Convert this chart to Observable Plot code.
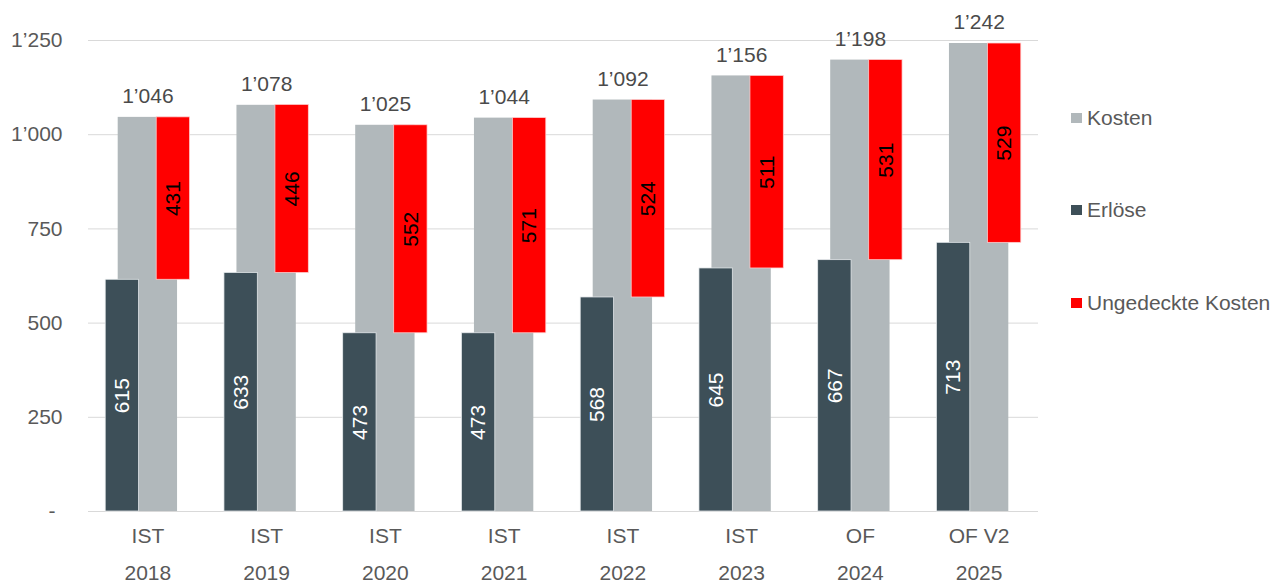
<!DOCTYPE html>
<html>
<head>
<meta charset="utf-8">
<script src="https://cdn.jsdelivr.net/npm/d3@7"></script>
<script src="https://cdn.jsdelivr.net/npm/@observablehq/plot@0.6"></script>
<style>
  html, body { margin: 0; padding: 0; background: #fff; }
  #wrap { position: relative; width: 1275px; height: 582px; font-family: "Liberation Sans", Arial, sans-serif; }
  #legend { position: absolute; left: 1071px; top: 0; }
  .item { position: absolute; left: 0; white-space: nowrap; display: flex; align-items: center; font-size: 21px; color: #595959; line-height: 24px; }
  .sw { width: 11px; height: 10px; margin-right: 5px; display: inline-block; }
</style>
</head>
<body>
<div id="wrap"><div id="legend"></div></div>
<script>
const years = ["2018", "2019", "2020", "2021", "2022", "2023", "2024", "2025"];
const types = ["IST", "IST", "IST", "IST", "IST", "IST", "OF", "OF V2"];
const kosten = [1046, 1078, 1025, 1044, 1092, 1156, 1198, 1242];
const erloese = [615, 633, 473, 473, 568, 645, 667, 713];
const ungedeckt = [431, 446, 552, 571, 524, 511, 531, 529];
const yTicks = [0, 250, 500, 750, 1000, 1250];
const seriesNames = ["Kosten", "Erlöse", "Ungedeckte Kosten"];

const colors = { "Kosten": "#b1b8bb", "Erlöse": "#3d4f58", "Ungedeckte Kosten": "#ff0000" };

const rows = years.map((y, i) => ({
  year: y, type: types[i], kosten: kosten[i], erloese: erloese[i], ungedeckt: ungedeckt[i]
}));

const fmt = d3.formatLocale({ decimal: ".", thousands: "\u2019", grouping: [3], currency: ["", ""] }).format(",");

const chart = Plot.plot({
  width: 1275,
  height: 582,
  marginLeft: 88,
  marginRight: 237,
  marginTop: 40,
  marginBottom: 71,
  x: { domain: years, paddingInner: 0, paddingOuter: 0, round: false, label: null },
  y: { domain: [0, 1250], label: null },
  style: { fontFamily: "'Liberation Sans', Arial, sans-serif", fontSize: "21px", color: "#595959", background: "white", overflow: "visible" },
  marks: [
    Plot.gridY(yTicks, { stroke: "#d9d9d9", strokeOpacity: 1, strokeWidth: 1 }),
    Plot.axisY(yTicks.filter(d => d !== 0), { tickSize: 0, tickPadding: 26, tickFormat: fmt, fill: "#595959", label: null }),
    Plot.text([0], { y: d => d, frameAnchor: "left", dx: -40, text: () => "-", fill: "#595959" }),
    Plot.axisX({ tickSize: 0, tickPadding: 17, tickFormat: d => types[years.indexOf(d)], fill: "#595959", label: null }),
    Plot.axisX({ tickSize: 0, tickPadding: 54, tickFormat: d => d, fill: "#595959", label: null }),
    Plot.barY(rows, { x: "year", y: "kosten", fill: colors["Kosten"], insetLeft: 29.7, insetRight: 29.7 }),
    Plot.barY(rows, { x: "year", y: "erloese", fill: colors["Erlöse"], stroke: "#e8ecee", strokeWidth: 0.75, insetLeft: 42.7, insetRight: 42.7, dx: -25.5 }),
    Plot.barY(rows, { x: "year", y1: "erloese", y2: d => d.erloese + d.ungedeckt, fill: colors["Ungedeckte Kosten"], stroke: "#ffd0d0", strokeWidth: 0.75, insetLeft: 42.7, insetRight: 42.7, dx: 25.5 }),
    Plot.text(rows, { x: "year", y: "kosten", text: d => fmt(d.kosten), dy: -21, fill: "#4a4a4a", fontSize: 21 }),
    Plot.text(rows, { x: "year", y: d => d.erloese / 2, text: d => fmt(d.erloese), rotate: -90, dx: -25.5, fill: "white", fontSize: 21 }),
    Plot.text(rows, { x: "year", y: d => d.erloese + d.ungedeckt / 2, text: d => fmt(d.ungedeckt), rotate: -90, dx: 25.5, fill: "black", fontSize: 21 })
  ]
});

document.getElementById("wrap").prepend(chart);

const legendTops = { "Kosten": 106, "Erlöse": 198, "Ungedeckte Kosten": 291 };
const legend = document.getElementById("legend");
seriesNames.forEach(name => {
  const item = document.createElement("div");
  item.className = "item";
  item.style.top = legendTops[name] + "px";
  const sw = document.createElement("span");
  sw.className = "sw";
  sw.style.background = colors[name];
  item.appendChild(sw);
  item.appendChild(document.createTextNode(name));
  legend.appendChild(item);
});
</script>
</body>
</html>
